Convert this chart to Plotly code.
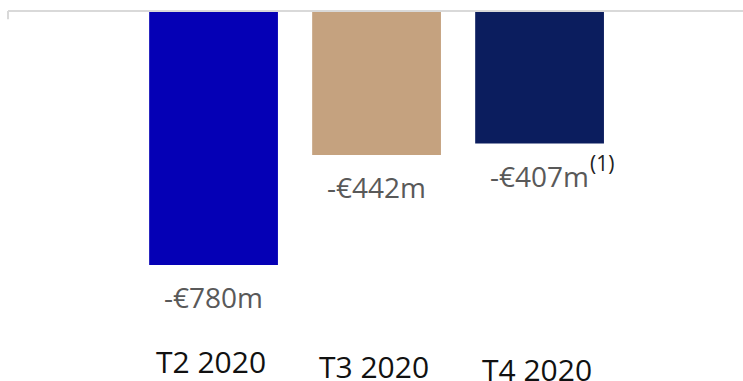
import plotly.graph_objects as go

categories = ["T2 2020", "T3 2020", "T4 2020"]
values = [-780, -442, -407]
value_labels = ["-€780m", "-€442m", "-€407m"]
value_notes = ["", "", "(1)"]
bar_colors = ["#0500B5", "#C5A27F", "#0B1D5E"]
cat_label_y = [0.052, 0.039, 0.032]

W, H = 743, 381
fig = go.Figure()
fig.add_trace(go.Bar(x=categories, y=values, marker=dict(color=bar_colors, line=dict(width=0)),
                     hoverinfo="skip"))

for i, (c, v, t, n) in enumerate(zip(categories, values, value_labels, value_notes)):
    fig.add_annotation(x=c, y=v, xref="x", yref="y", text=t, showarrow=False,
                       xanchor="center", yanchor="middle", yshift=-32,
                       font=dict(family="Open Sans", size=28, color="#595959"))
    if n:
        fig.add_annotation(x=c, y=v, xref="x", yref="y", text=n, showarrow=False,
                           xanchor="left", yanchor="middle", yshift=-19, xshift=48,
                           font=dict(family="Open Sans", size=21, color="#222222"))
    fig.add_annotation(x=c, y=cat_label_y[i], xref="x", yref="paper", text=c, showarrow=False,
                       xanchor="center", yanchor="middle", xshift=-3,
                       font=dict(family="Open Sans", size=30, color="#111111"))

# top axis line with small tick at left
fig.add_shape(type="line", xref="paper", yref="paper", x0=0, x1=1, y0=1, y1=1,
              line=dict(color="#D9D9D9", width=2))
fig.add_shape(type="line", xref="paper", yref="y", x0=0, x1=0, y0=0, y1=-25,
              line=dict(color="#D9D9D9", width=2))

fig.update_layout(
    width=W, height=H, margin=dict(l=8, r=0, t=11, b=0),
    paper_bgcolor="white", plot_bgcolor="white", showlegend=False, bargap=0.21,
    xaxis=dict(range=[-1.261, 3.248], showticklabels=False, showgrid=False, zeroline=False,
               showline=False, fixedrange=True),
    yaxis=dict(range=[-1136, 0], showticklabels=False, showgrid=False, zeroline=False,
               showline=False, fixedrange=True),
)
fig.write_html("out.html")
